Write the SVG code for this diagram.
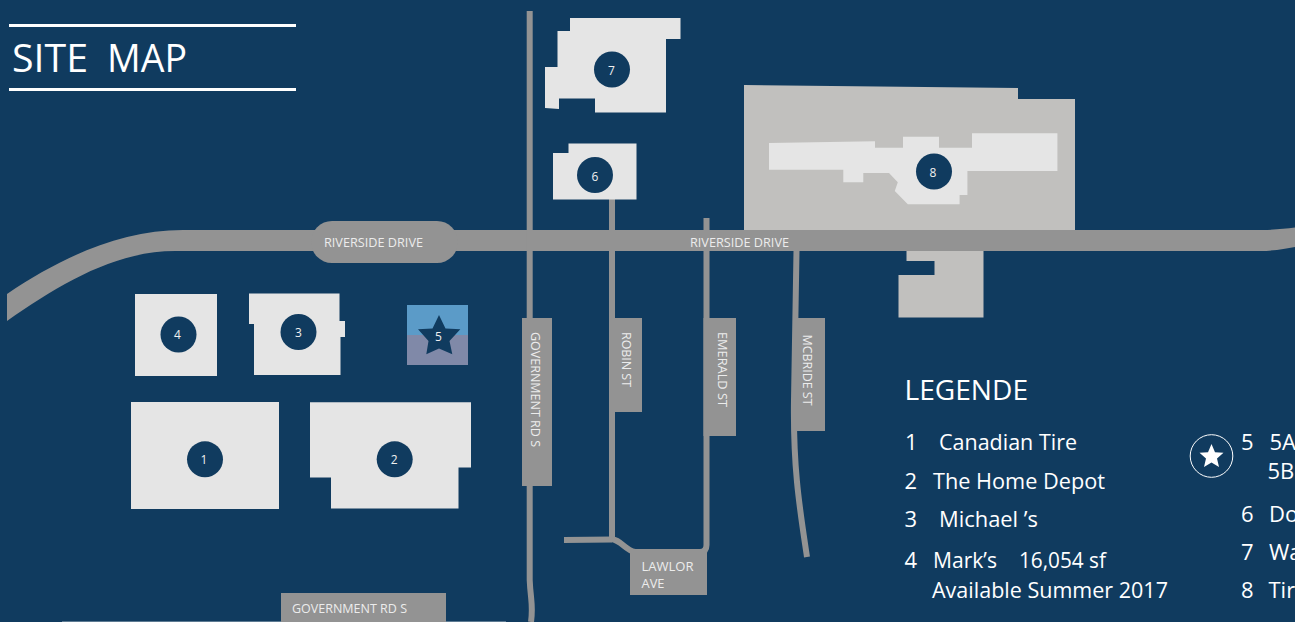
<svg xmlns="http://www.w3.org/2000/svg" width="1295" height="622" viewBox="0 0 1295 622">
<style>
text{font-family:"Open Sans","Liberation Sans",sans-serif;fill:#fff}
.road{fill:none;stroke:#939393;stroke-width:6}
.lab{fill:#939393}
.rl{font-size:12px;fill:#ececec}
.b{fill:#e5e5e5}
.lot{fill:#c1c0be}
.c{fill:#103b5f}
.n{font-size:12px;text-anchor:middle;fill:#f0f0f0}
.lg{font-size:22px}
</style>
<rect width="1295" height="622" fill="#103b5f"/>
<g id="title">
<rect x="9" y="24" width="287" height="3" fill="#fff"/>
<rect x="9" y="88" width="287" height="3" fill="#fff"/>
<text x="12" y="72" font-size="38" textLength="76" lengthAdjust="spacingAndGlyphs">SITE</text>
<text x="107" y="72" font-size="38" textLength="80" lengthAdjust="spacingAndGlyphs">MAP</text>
</g>
<g id="connectors">
<path class="lab" d="M7,294C60,258 120,230 183,230H1262C1275,230 1285,228.500 1295,227.500V247C1285,248.500 1275,251 1260,251H175C115,251 60,284 7,321Z"/>
<path class="road" d="M529.700,11V580C530.500,600 533.500,605 531,622"/>
<path class="road" d="M612,199V539C622,541 625,550 635,552H700C705,552 706.500,549 706.500,545V218"/>
<path class="road" d="M564,540L612,539.500"/>
<path class="road" d="M796.500,251L794,400C793,470 800,510 807,557"/>
<line x1="62" y1="621.500" x2="506" y2="621.500" stroke="#5c7a92" stroke-width="1"/>
</g>
<g id="road-labels">
<rect class="lab" x="311" y="221" width="147" height="42" rx="21"/>
<text class="rl" x="324" y="247" textLength="99" lengthAdjust="spacingAndGlyphs">RIVERSIDE DRIVE</text>
<text class="rl" x="690" y="247" textLength="99" lengthAdjust="spacingAndGlyphs">RIVERSIDE DRIVE</text>
<rect class="lab" x="281" y="593" width="165" height="29"/>
<text class="rl" x="292" y="612.500" textLength="115" lengthAdjust="spacingAndGlyphs">GOVERNMENT RD S</text>
<rect class="lab" x="522" y="318" width="30" height="168"/>
<text class="rl" transform="translate(531,332) rotate(90)" textLength="115" lengthAdjust="spacingAndGlyphs">GOVERNMENT RD S</text>
<rect class="lab" x="609.500" y="318" width="32.500" height="94"/>
<text class="rl" transform="translate(622,332) rotate(90)" textLength="55" lengthAdjust="spacingAndGlyphs">ROBIN ST</text>
<rect class="lab" x="703.500" y="318" width="32.500" height="118"/>
<text class="rl" transform="translate(718,332) rotate(90)" textLength="75" lengthAdjust="spacingAndGlyphs">EMERALD ST</text>
<rect class="lab" x="796" y="318" width="29" height="113"/>
<text class="rl" transform="translate(803,334.500) rotate(90)" textLength="71" lengthAdjust="spacingAndGlyphs">MCBRIDE ST</text>
<rect class="lab" x="630" y="551" width="77" height="44"/>
<text class="rl" x="641.500" y="571" textLength="52" lengthAdjust="spacingAndGlyphs">LAWLOR</text>
<text class="rl" x="641.500" y="588" textLength="23" lengthAdjust="spacingAndGlyphs">AVE</text>
</g>
<g id="lot-8">
<polygon class="lot" points="744,85 1018,88 1018,99 1075,99 1075,230 744,230"/>
<polygon class="lot" points="906.500,251 983.500,251 983.500,317.500 898.500,317.500 898.500,275 934.500,275 934.500,261 906.500,261"/>
</g>
<g id="node-1"><rect class="b" x="131" y="402" width="148" height="107"/><circle class="c" cx="205" cy="459.300" r="18"/><text class="n" x="204" y="464">1</text></g>
<g id="node-2"><polygon class="b" points="310,402.300 471,402.300 471,467.500 458.500,467.500 458.500,508.500 331,508.500 331,477.500 310,477.500"/><circle class="c" cx="394.700" cy="459.300" r="18"/><text class="n" x="394.300" y="464">2</text></g>
<g id="node-3"><polygon class="b" points="249,293.500 339.500,293.500 339.500,321 345,321 345,337 340.500,337 340.500,375 254,375 254,324 249,324"/><circle class="c" cx="298.500" cy="332" r="18"/><text class="n" x="298.500" y="337">3</text></g>
<g id="node-4"><rect class="b" x="135" y="294" width="82" height="82"/><circle class="c" cx="178.500" cy="334.500" r="18"/><text class="n" x="177.500" y="339">4</text></g>
<g id="node-5"><rect x="407" y="305" width="61" height="30" fill="#5b9bc8"/><rect x="407" y="335" width="61" height="30" fill="#8089a8"/><polygon class="c" points="439,315 445.500,328.600 460.300,329.300 449.500,340.900 452.300,354.300 439,348.500 426.300,354.300 428.500,340.900 418,329.300 432.500,328.600"/><text class="n" x="438.500" y="341">5</text></g>
<g id="node-6"><polygon class="b" points="568.500,143.500 636.500,143.500 636.500,199.500 553,199.500 553,153 568.500,153"/><circle class="c" cx="595" cy="175" r="18"/><text class="n" x="595" y="181">6</text></g>
<g id="node-7"><polygon class="b" points="570,18 680.500,18 680.500,39 666,39 666,112.500 595,112.500 595,98.500 559,98.500 559,109 545,108 545,67 557.500,67 557.500,31 570,31"/><circle class="c" cx="612" cy="69.500" r="18"/><text class="n" x="611.500" y="75">7</text></g>
<g id="node-8"><polygon class="b" points="769,143 875,141.300 875,147.700 903,147.700 903,136.700 939,136.700 939,147.700 972,147.700 972,133.300 1057.400,133.300 1057.400,171 967.400,171 967.400,195 959.600,195 959.600,204.300 907.800,204.300 894.800,191 897.800,182.300 889,173 863.300,173 863.300,182.300 843.300,182.300 843.300,169.700 769,169.700"/><circle class="c" cx="934" cy="171.500" r="18"/><text class="n" x="933" y="177">8</text></g>
<g id="legend">
<text x="904.500" y="400" font-size="28" textLength="123.500" lengthAdjust="spacingAndGlyphs">LEGENDE</text>
<text class="lg" x="905" y="450">1</text>
<text class="lg" x="939" y="450" textLength="138" lengthAdjust="spacingAndGlyphs">Canadian Tire</text>
<text class="lg" x="904.500" y="489">2</text>
<text class="lg" x="933" y="489" textLength="172" lengthAdjust="spacingAndGlyphs">The Home Depot</text>
<text class="lg" x="904.500" y="527">3</text>
<text class="lg" x="939" y="527" textLength="99" lengthAdjust="spacingAndGlyphs">Michael ’s</text>
<text class="lg" x="904.500" y="568">4</text>
<text class="lg" x="933" y="568" textLength="64" lengthAdjust="spacingAndGlyphs">Mark’s</text>
<text class="lg" x="1019" y="568" textLength="87" lengthAdjust="spacingAndGlyphs">16,054 sf</text>
<text class="lg" x="932" y="598" textLength="236" lengthAdjust="spacingAndGlyphs">Available Summer 2017</text>
<circle cx="1211.500" cy="456" r="21.300" fill="none" stroke="#fff" stroke-width="1"/>
<polygon fill="#fff" points="1211.500,444 1215,452.200 1223.500,452.800 1217,458.500 1219,467 1211.500,462.500 1204,467 1206,458.500 1199.500,452.800 1208,452.200"/>
<text class="lg" x="1241" y="450">5</text>
<text class="lg" x="1269.500" y="450">5A</text>
<text class="lg" x="1267.500" y="479">5B</text>
<text class="lg" x="1241" y="522">6</text>
<text class="lg" x="1269" y="522">Do</text>
<text class="lg" x="1241" y="560">7</text>
<text class="lg" x="1269" y="560">Wa</text>
<text class="lg" x="1241" y="598">8</text>
<text class="lg" x="1268.500" y="598">Tir</text>
</g>
</svg>
